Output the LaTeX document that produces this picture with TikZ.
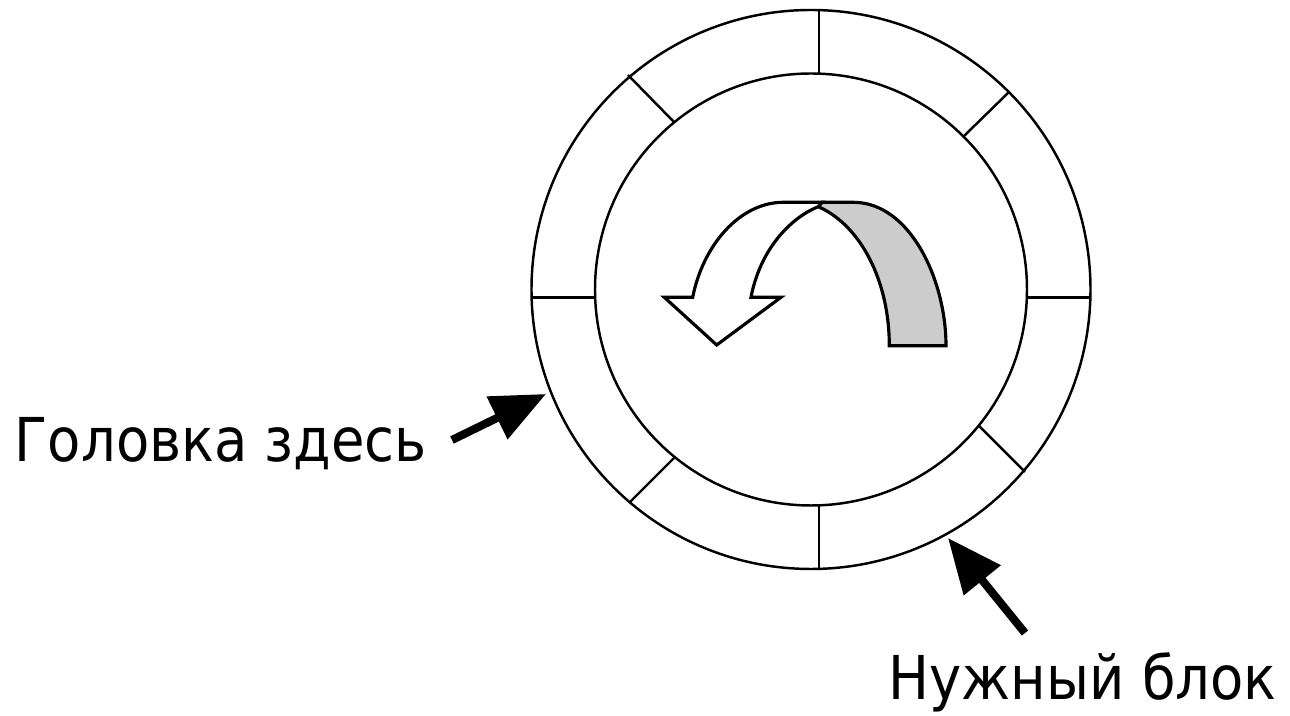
\documentclass[tikz,border=0pt]{standalone}
\usepackage{fontspec}
\setmainfont{DejaVu Sans}[FakeStretch=0.9]
\usetikzlibrary{arrows.meta}
\tikzset{rim/.style={draw=black, line width=0.7pt},
ribbon/.style={draw=black, line width=0.9pt, line join=miter},
pointer/.style={line width=2.3pt, -{Triangle[length=15.5pt,width=13pt]}},
caption/.style={font=\fontsize{17.2}{20}\selectfont, inner sep=0pt, anchor=base west}}

\begin{document}
\begin{tikzpicture}[x=0.01cm,y=-0.01cm]

    \useasboundingbox (0,0) rectangle (1290,716);

    \coordinate (c) at (811,289.5);

    % track rings
    \draw[rim] (c) circle (279.5);
    \draw[rim] (c) circle (216);

    % sector borders
    \foreach \xa/\ya/\xb/\yb in {819/10/819/73, 819/505/819/569,
        532/297.7/596/297.7, 1027/297.7/1090/297.7,
        628/75/674/122, 1009/92/964/136,
        979/426/1025/472, 674/458/629/503}
    \draw[rim] (\xa,\ya) -- (\xb,\yb);

    % rotation ribbon: back side
    \coordinate (peak) at (818.3,206.7);
    \draw[ribbon, fill=black!20] (peak) -- (822,202.3) -- (853.3,202.3)
        .. controls (910,202.3) and (946,280) .. (946,345.7)
        -- (889.3,345.7)
        .. controls (889.3,280) and (860,225) .. (peak);

    % rotation ribbon: front side with the arrow head
    \draw[ribbon, fill=white] (716.7,345) -- (664.3,297.3) -- (692.7,297.3)
        .. controls (703,245) and (740,202.3) .. (783.3,202.3)
        -- (822,202.3) -- (peak)
        .. controls (790,218) and (760,250) .. (751,297.3)
        -- (781,297.3) -- cycle;

    % labels
    \node[caption] (head) at (14,462) {Головка здесь};
    \node[caption] (block) at (888,700) {Нужный блок};

    \coordinate (headfrom) at (452,440);
    \coordinate (headto) at (546,394);
    \coordinate (blockfrom) at (1025,633);
    \coordinate (blockto) at (948,538);

    \draw[pointer] (headfrom) -- (headto);
    \draw[pointer] (blockfrom) -- (blockto);

\end{tikzpicture}
\end{document}
